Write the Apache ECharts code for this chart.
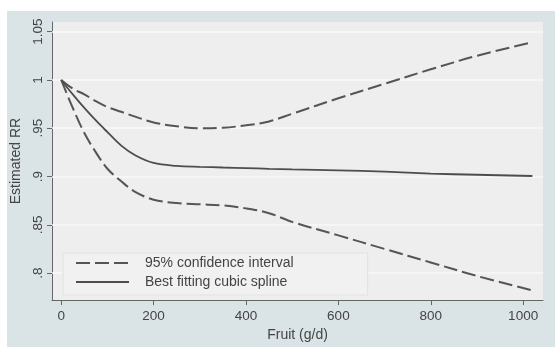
<!DOCTYPE html>
<html>
<head>
<meta charset="utf-8">
<style>
  html, body { margin: 0; padding: 0; background: #ffffff; }
  #chart { width: 555px; height: 347px; }
</style>
<script src="https://cdn.jsdelivr.net/npm/echarts@6/dist/echarts.min.js"></script>
</head>
<body>
<div id="chart"></div>
<script>
// Fruit intake (g/d) at which the dose-response curve is evaluated
const fruit = [0, 25, 50, 75, 100, 130, 160, 200, 250, 300, 350, 400, 450, 500, 600, 700, 800, 900, 1020];
// Best fitting cubic spline (estimated RR)
const rrFit = [1.0, 0.985, 0.971, 0.958, 0.946, 0.932, 0.922, 0.914, 0.911, 0.910, 0.9093, 0.9087, 0.908, 0.9074, 0.9064, 0.905, 0.903, 0.9018, 0.9005];
// 95% confidence interval bounds
const ciUpper = [1.0, 0.991, 0.985, 0.978, 0.972, 0.967, 0.962, 0.956, 0.952, 0.950, 0.9505, 0.953, 0.957, 0.965, 0.981, 0.996, 1.011, 1.025, 1.039];
const ciLower = [1.0, 0.971, 0.945, 0.925, 0.908, 0.895, 0.884, 0.876, 0.8725, 0.8712, 0.870, 0.867, 0.862, 0.853, 0.839, 0.825, 0.811, 0.797, 0.782];

// Axis ticks
const xTicks = [0, 200, 400, 600, 800, 1000];
const yTicks = [0.8, 0.85, 0.9, 0.95, 1.0, 1.05];
const yTickLabels = ['.8', '.85', '.9', '.95', '1', '1.05'];

const ciName = '95% confidence interval';
const fitName = 'Best fitting cubic spline';

const pairs = (xs, ys) => xs.map((x, i) => [x, ys[i]]);
const font = 'Liberation Sans, Arial, sans-serif';
const inkColor = '#555555';

const chart = echarts.init(document.getElementById('chart'), null, { renderer: 'canvas' });

chart.setOption({
  backgroundColor: '#ffffff',
  animation: false,
  graphic: [{
    type: 'rect',
    z: -10,
    silent: true,
    shape: { x: 7, y: 11, width: 548, height: 336 },
    style: { fill: '#dae3e6' }
  }],
  grid: {
    left: 52, top: 22, right: 12, bottom: 44,
    show: true,
    backgroundColor: '#eeeeee',
    borderWidth: 0
  },
  xAxis: {
    type: 'value',
    min: -20,
    max: 1043,
    name: 'Fruit (g/d)',
    nameLocation: 'middle',
    nameGap: 23,
    nameTextStyle: { fontFamily: font, fontSize: 14, color: '#444' },
    axisLine: { show: true, onZero: false, lineStyle: { color: '#666', width: 1 } },
    axisTick: { show: true, length: 5, customValues: xTicks, lineStyle: { color: '#666' } },
    axisLabel: {
      customValues: xTicks, margin: 9, fontFamily: font, fontSize: 13.5, color: '#444',
      formatter: (v) => String(v)
    },
    splitLine: { show: false }
  },
  yAxis: {
    type: 'value',
    min: 0.772,
    max: 1.06,
    name: 'Estimated RR',
    nameLocation: 'middle',
    nameGap: 26,
    nameRotate: 90,
    nameTextStyle: { fontFamily: font, fontSize: 14, color: '#444' },
    axisLine: { show: true, onZero: false, lineStyle: { color: '#666', width: 1 } },
    axisTick: { show: true, length: 5, customValues: yTicks, lineStyle: { color: '#666' } },
    axisLabel: {
      customValues: yTicks,
      rotate: 90,
      margin: 7,
      fontFamily: font,
      fontSize: 13.5,
      color: '#444',
      formatter: (v) => {
        const i = yTicks.findIndex(t => Math.abs(t - v) < 1e-9);
        return i >= 0 ? yTickLabels[i] : '';
      }
    },
    splitLine: { show: false }
  },
  legend: {
    z: 20,
    left: 63,
    top: 253,
    orient: 'vertical',
    data: [ciName, fitName],
    itemWidth: 53,
    itemHeight: 14,
    itemGap: 5,
    padding: [3, 74, 6, 12],
    backgroundColor: '#f1f1f1',
    borderColor: '#e2e2e2',
    borderWidth: 1,
    borderRadius: 0,
    itemStyle: { opacity: 0 },
    textStyle: { fontFamily: font, fontSize: 14, color: '#444', padding: [0, 0, 0, 11] }
  },
  series: [
    {
      // carrier for the horizontal grid lines at the y ticks (drawn beneath the curves)
      type: 'line',
      name: 'gridlines',
      z: 1,
      silent: true,
      data: pairs(fruit, rrFit),
      symbol: 'none',
      lineStyle: { opacity: 0 },
      markLine: {
        z: 1,
        silent: true,
        symbol: 'none',
        label: { show: false },
        emphasis: { disabled: true },
        lineStyle: { color: '#f8f8f8', width: 1.5, type: 'solid' },
        data: yTicks.map(v => ({ yAxis: v }))
      }
    },
    {
      type: 'line',
      name: ciName,
      z: 3,
      data: pairs(fruit, ciUpper),
      smooth: 0.35,
      symbol: 'none',
      lineStyle: { color: inkColor, width: 2, type: [14, 5] },
      itemStyle: { color: inkColor }
    },
    {
      type: 'line',
      name: ciName,
      z: 3,
      data: pairs(fruit, ciLower),
      smooth: 0.35,
      symbol: 'none',
      lineStyle: { color: inkColor, width: 2, type: [14, 5] },
      itemStyle: { color: inkColor }
    },
    {
      type: 'line',
      name: fitName,
      z: 3,
      data: pairs(fruit, rrFit),
      smooth: 0.35,
      symbol: 'none',
      lineStyle: { color: '#4d4d4d', width: 1.8, type: 'solid' },
      itemStyle: { color: '#4d4d4d' }
    }
  ]
});
</script>
</body>
</html>
